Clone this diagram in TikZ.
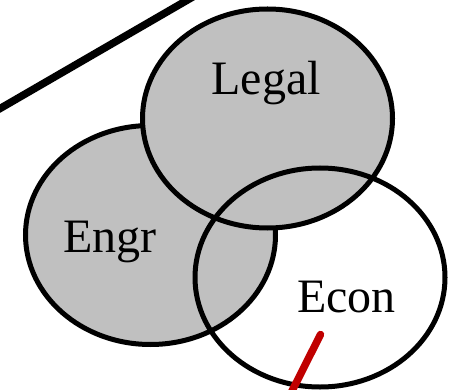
\documentclass[tikz,border=0pt]{standalone}
\usepackage{fontspec}
\setmainfont{Liberation Serif}
\usetikzlibrary{shapes.geometric}
\definecolor{vgray}{RGB}{192,192,192}
\definecolor{vred}{RGB}{192,0,0}
\tikzset{
  setbox/.style={ellipse, draw=black, line width=5pt, minimum width=250pt, minimum height=219pt, inner sep=0pt},
  label text/.style={anchor=base, inner sep=0pt, font=\fontsize{48}{50}\selectfont},
  thick rule/.style={line width=7.5pt}
}
\begin{document}
\begin{tikzpicture}[x=1pt,y=-1pt]
\useasboundingbox (0,0) rectangle (452,390);
\clip (0,0) rectangle (452,390);
\fill[white] (0,0) rectangle (452,390);
\node[setbox, fill=vgray] (engr) at (150.5,235) {};
\node[setbox, fill=vgray] (legal) at (267.5,118.5) {};
\node[setbox] (econ) at (320,277.5) {};
\node[label text] (legaltxt) at (266,95) {Legal};
\node[label text] (engrtxt) at (110,252) {Engr};
\node[label text] (econtxt) at (346.5,312) {Econ};
\coordinate (blA) at (-12,115.5);
\coordinate (blB) at (197,-5.5);
\draw[thick rule, black] (blA) -- (blB);
\coordinate (rdA) at (320.5,334.5);
\coordinate (rdB) at (288.5,398);
\draw[thick rule, vred, line cap=round] (rdA) -- (rdB);
\end{tikzpicture}
\end{document}
